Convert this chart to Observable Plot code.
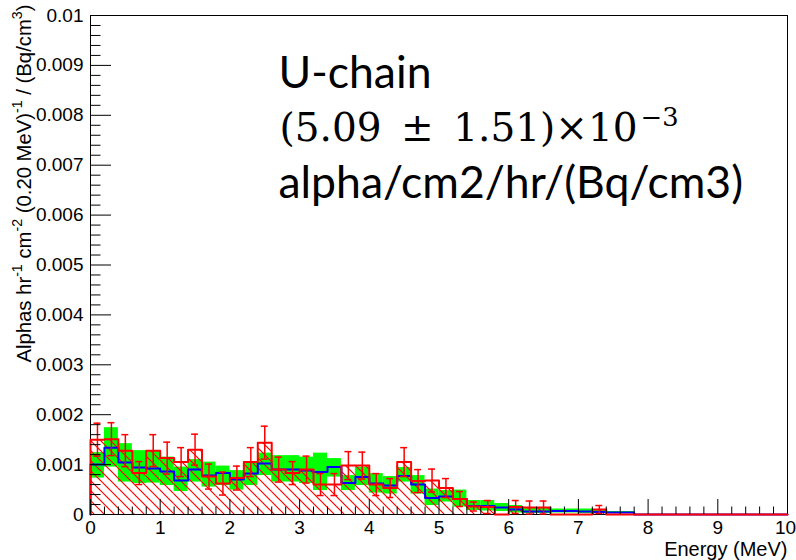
<!DOCTYPE html>
<html>
<head>
<meta charset="utf-8">
<script src="https://cdn.jsdelivr.net/npm/d3@7"></script>
<script src="https://cdn.jsdelivr.net/npm/@observablehq/plot@0.6"></script>
<style>
  html, body { margin: 0; padding: 0; background: #fff; }
  #chart { width: 796px; height: 560px; }
</style>
</head>
<body>
<div id="chart"></div>
<script>
// Alpha energy spectrum, 0.20 MeV bins from 0 to 10 MeV.
// Rates are in units of 1e-3 alphas / hr / cm^2 / (0.20 MeV) / (Bq/cm^3).
const binWidth = 0.2;

// measured spectrum (red histogram, hatched) and its statistical errors
const dataRate = [1.50, 1.51, 1.28, 0.83, 1.28, 1.13, 1.05, 1.30, 0.76, 0.62,
                  0.73, 1.05, 1.44, 0.90, 0.83, 0.90, 0.60, 0.60, 0.98, 0.98,
                  0.60, 0.53, 1.05, 0.67, 0.68, 0.53, 0.31, 0.16, 0.15, 0.00,
                  0.15, 0.14, 0.14, 0.00, 0.00, 0.00, 0.10, 0.00, 0.00, 0.00,
                  0, 0, 0, 0, 0, 0, 0, 0, 0, 0];
const dataErr  = [0.33, 0.33, 0.32, 0.23, 0.32, 0.32, 0.29, 0.31, 0.25, 0.23,
                  0.24, 0.29, 0.33, 0.25, 0.23, 0.27, 0.22, 0.22, 0.28, 0.27,
                  0.22, 0.19, 0.29, 0.23, 0.23, 0.19, 0.15, 0.09, 0.13, 0.00,
                  0.13, 0.13, 0.13, 0.00, 0.00, 0.00, 0.08, 0.00, 0.00, 0.00,
                  0, 0, 0, 0, 0, 0, 0, 0, 0, 0];

// simulated U-chain spectrum (blue) with its uncertainty band (green)
const fitRate  = [1.00, 1.34, 1.04, 0.94, 0.92, 0.86, 0.68, 0.90, 0.78, 0.83,
                  0.70, 0.82, 1.02, 0.90, 0.90, 0.88, 0.85, 0.95, 0.63, 0.75,
                  0.62, 0.58, 0.77, 0.60, 0.33, 0.36, 0.31, 0.17, 0.17, 0.14,
                  0.10, 0.06, 0.06, 0.07, 0.07, 0.06, 0.05, 0.04, 0.04, 0.00,
                  0, 0, 0, 0, 0, 0, 0, 0, 0, 0];
const bandLow  = [0.73, 0.95, 0.65, 0.62, 0.63, 0.58, 0.46, 0.65, 0.55, 0.58,
                  0.49, 0.58, 0.78, 0.65, 0.65, 0.62, 0.48, 0.75, 0.48, 0.58,
                  0.43, 0.41, 0.65, 0.41, 0.18, 0.25, 0.15, 0.08, 0.07, 0.06,
                  0.03, 0.02, 0.02, 0.03, 0.03, 0.02, 0.02, 0.02, 0.02, 0.00,
                  0, 0, 0, 0, 0, 0, 0, 0, 0, 0];
const bandHigh = [1.24, 1.74, 1.42, 1.28, 1.27, 1.15, 0.95, 1.10, 1.05, 0.97,
                  0.88, 1.05, 1.23, 1.18, 1.18, 1.15, 1.23, 1.12, 0.78, 0.95,
                  0.82, 0.76, 0.94, 0.78, 0.51, 0.48, 0.49, 0.28, 0.28, 0.22,
                  0.18, 0.13, 0.12, 0.11, 0.11, 0.11, 0.10, 0.06, 0.06, 0.00,
                  0, 0, 0, 0, 0, 0, 0, 0, 0, 0];

// axes
const xTicks = [0, 1, 2, 3, 4, 5, 6, 7, 8, 9, 10];
const xTickLabels = ["0", "1", "2", "3", "4", "5", "6", "7", "8", "9", "10"];
const yTicks = [0, 0.001, 0.002, 0.003, 0.004, 0.005, 0.006, 0.007, 0.008, 0.009, 0.01];
const yTickLabels = ["0", "0.001", "0.002", "0.003", "0.004", "0.005", "0.006", "0.007", "0.008", "0.009", "0.01"];
const xTitle = "Energy (MeV)";
// [text, superscript?] pieces of the y title
const yTitleParts = [["Alphas hr", false], ["-1", true], [" cm", false], ["-2", true],
                     [" (0.20 MeV)", false], ["-1", true], [" / (Bq/cm", false], ["3", true], [")", false]];
const yTitle = yTitleParts.map(p => p[0]).join("");

// result box
const noteName = "U-chain";
const noteValueParts = [["(5.09\u2002\u00B1\u20021.51)\u00D710", false], ["\u22123", true]];
const noteValue = noteValueParts.map(p => p[0]).join("");
const noteUnit = "alpha/cm2/hr/(Bq/cm3)";

const unit = 1e-3;
const bins = dataRate.map((v, i) => ({
  x1: i * binWidth,
  x2: (i + 1) * binWidth,
  xc: (i + 0.5) * binWidth,
  data: v * unit,
  err: dataErr[i] * unit,
  fit: fitRate[i] * unit,
  lo: bandLow[i] * unit,
  hi: bandHigh[i] * unit
}));

// histogram outline as a closed staircase
function outline(key) {
  const pts = [{x: bins[0].x1, y: 0}];
  for (const b of bins) pts.push({x: b.x1, y: b[key]}, {x: b.x2, y: b[key]});
  pts.push({x: bins[bins.length - 1].x2, y: 0});
  return pts;
}
const withErr = bins.filter(b => b.err > 0);
const capHalf = 0.05;

const W = 796, H = 560;
const mL = 90, mR = 9, mT = 15, mB = 46;
const plotW = W - mL - mR, plotH = H - mT - mB;

const xMinor = d3.range(0, 50).map(i => i * binWidth).filter((d, i) => i % 5 !== 0);
const yMinor = d3.range(0, 50).map(i => i * 0.0002).filter((d, i) => i % 5 !== 0);

const hatchDefs = () => {
  const defs = d3.create("svg:defs");
  const p = defs.append("pattern")
    .attr("id", "hatch")
    .attr("patternUnits", "userSpaceOnUse")
    .attr("width", 10).attr("height", 10);
  p.append("path")
    .attr("d", "M-1,-1L11,11M-1,9L1,11M9,-1L11,1")
    .attr("stroke", "#ff0000")
    .attr("stroke-width", 1.2)
    .attr("fill", "none");
  return defs.node();
};

const xLabel = d => xTickLabels[xTicks.indexOf(d)];
const yTitleSize = 20.3;
const noteValueSize = 39;

const chart = Plot.plot({
  width: W, height: H,
  marginLeft: mL, marginRight: mR, marginTop: mT, marginBottom: mB,
  style: {fontFamily: "'Liberation Sans', Arial, sans-serif", background: "#fff", color: "#000"},
  x: {domain: [0, 10]},
  y: {domain: [0, 0.01]},
  marks: [
    hatchDefs,
    Plot.frame({stroke: "#000", strokeWidth: 1}),
    // uncertainty band of the simulated spectrum
    Plot.rectY(bins, {x1: "x1", x2: "x2", y1: "lo", y2: "hi", fill: "#00ff00"}),
    // measured spectrum, hatched
    Plot.rectY(bins, {x1: "x1", x2: "x2", y1: 0, y2: "data", fill: "url(#hatch)"}),
    Plot.line(outline("fit"), {x: "x", y: "y", stroke: "#0000ff", strokeWidth: 2}),
    Plot.line(outline("data"), {x: "x", y: "y", stroke: "#ff0000", strokeWidth: 2}),
    // error bars
    Plot.ruleX(withErr, {x: "xc", y1: d => d.data - d.err, y2: d => d.data + d.err, stroke: "#ff0000", strokeWidth: 1.5}),
    Plot.ruleY(withErr, {y: d => d.data + d.err, x1: d => d.xc - capHalf, x2: d => d.xc + capHalf, stroke: "#ff0000", strokeWidth: 1.5}),
    Plot.ruleY(withErr, {y: d => d.data - d.err, x1: d => d.xc - capHalf, x2: d => d.xc + capHalf, stroke: "#ff0000", strokeWidth: 1.5}),
    // inward tick marks
    Plot.ruleX(xTicks, {x: d => d, insetTop: plotH - 15, stroke: "#000"}),
    Plot.ruleX(xMinor, {x: d => d, insetTop: plotH - 7.5, stroke: "#000"}),
    Plot.ruleY(yTicks, {y: d => d, insetRight: plotW - 21, stroke: "#000"}),
    Plot.ruleY(yMinor, {y: d => d, insetRight: plotW - 10.5, stroke: "#000"}),
    Plot.axisX({ticks: xTicks.slice(0, -1), tickSize: 0, tickPadding: 6, fontSize: 19, label: null, tickFormat: xLabel}),
    Plot.axisX({ticks: xTicks.slice(-1), tickSize: 0, tickPadding: 6, fontSize: 19, label: null, tickFormat: xLabel, dx: -2}),
    Plot.axisY({ticks: yTicks, tickSize: 0, tickPadding: 7, fontSize: 19, label: null,
                tickFormat: d => yTickLabels[yTicks.indexOf(d)]}),
    // axis titles
    Plot.text([xTitle], {frameAnchor: "bottom-right", textAnchor: "end", lineAnchor: "bottom",
                         dy: 41, fontSize: 20, fill: "#000"}),
    Plot.text([yTitle], {frameAnchor: "top-left", textAnchor: "end", lineAnchor: "bottom",
                         rotate: -90, dx: -60, dy: -11, fontSize: yTitleSize, fill: "#000"}),
    // result annotation
    Plot.text([noteName], {frameAnchor: "top-left", textAnchor: "start", lineAnchor: "bottom",
                           dx: 188, dy: 72, fontSize: 44.5, fontFamily: "Lato", fill: "#000"}),
    Plot.text([noteValue], {frameAnchor: "top-left", textAnchor: "start", lineAnchor: "bottom",
                            dx: 189, dy: 125, fontSize: noteValueSize, fontFamily: "'DejaVu Serif'", fill: "#000"}),
    Plot.text([noteUnit], {frameAnchor: "top-left", textAnchor: "start", lineAnchor: "bottom",
                           dx: 188, dy: 182, fontSize: 44.5, fontFamily: "Lato", fill: "#000"})
  ]
});
document.getElementById("chart").appendChild(chart);

// typeset superscripts inside the texts that carry them
function richText(svg, full, parts, fs, supScale, raiseEm, gap) {
  d3.select(svg).selectAll("text").filter(function () { return this.textContent === full; })
    .each(function () {
      const t = d3.select(this);
      t.text(null);
      let raised = false;
      for (const [str, sup] of parts) {
        const span = t.append("tspan").text(str);
        if (sup) {
          span.style("font-size", `${supScale * fs}px`);
          if (!raised) { span.attr("dy", -raiseEm * fs).attr("dx", gap); raised = true; }
        } else if (raised) {
          span.attr("dy", raiseEm * fs); raised = false;
        }
      }
    });
}
richText(chart, yTitle, yTitleParts, yTitleSize, 0.7, 0.42, 0);
richText(chart, noteValue, noteValueParts, noteValueSize, 0.66, 0.36, 3);
</script>
</body>
</html>
